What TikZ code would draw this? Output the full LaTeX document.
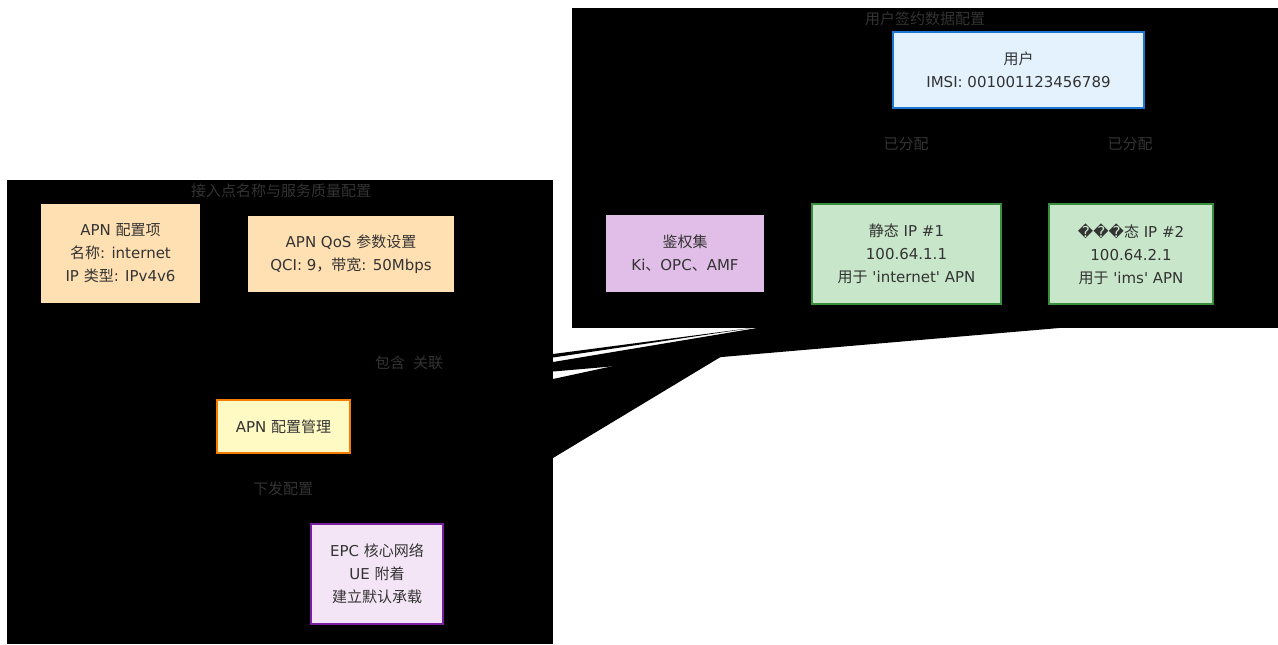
\documentclass[tikz,border=0pt]{standalone}
\usepackage{fontspec}
\setmainfont{DejaVu Sans}
\newfontfamily\dv{DejaVu Sans}
\newfontfamily\cjk{Noto Sans CJK SC}
\newcommand{\zh}[1]{{\cjk #1}}
\definecolor{txt}{HTML}{333333}
\definecolor{userfill}{HTML}{E3F2FD}
\definecolor{userdraw}{HTML}{1976D2}
\definecolor{keyfill}{HTML}{E1BEE7}
\definecolor{ipfill}{HTML}{C8E6C9}
\definecolor{ipdraw}{HTML}{388E3C}
\definecolor{apnfill}{HTML}{FFE0B2}
\definecolor{mgmtfill}{HTML}{FFF9C4}
\definecolor{mgmtdraw}{HTML}{F57C00}
\definecolor{epcfill}{HTML}{F3E5F5}
\definecolor{epcdraw}{HTML}{7B1FA2}
\tikzset{
  base/.style={font=\dv\fontsize{11.25pt}{17.25pt}\selectfont, text=txt, align=center, inner sep=0pt},
  box/.style={base, rectangle, line width=1.5pt},
  lbl/.style={base},
  cluster/.style={fill=black, draw=none},
  sliver/.style={fill=black, draw=none},
}
\begin{document}
\begin{tikzpicture}[x=0.75pt,y=-0.75pt]
\useasboundingbox (0,0) rectangle (1278,644);
% clusters
\fill[cluster] (572,8) rectangle (1278,328);
\fill[cluster] (7,180) rectangle (553,644);
% edge artefacts between clusters
\fill[sliver] (553,354) -- (755,327.5) -- (553,357.5) -- cycle;
\fill[sliver] (1065,327.5) -- (760,327.5) -- (553,362) -- (553,371.5) -- cycle;
\fill[sliver] (553,379) -- (757,335) -- (553,458) -- cycle;
% titles
\node[lbl] (ttop) at (925,19) {\zh{用户签约数据配置}};
\node[lbl] (tleft) at (281,191) {\zh{接入点名称与服务质量配置}};
% top cluster nodes
\node[box, fill=userfill, draw=userdraw, minimum width=188.25pt, minimum height=57pt] (user) at (1018.5,70)
  {\zh{用户}\\IMSI: 001001123456789};
\node[box, fill=keyfill, minimum width=118.5pt, minimum height=57.75pt] (keys) at (685,253.5)
  {\zh{鉴权集}\\Ki\zh{、}OPC\zh{、}AMF};
\node[box, fill=ipfill, draw=ipdraw, minimum width=141.75pt, minimum height=75pt] (ip1) at (906.5,254)
  {\zh{静态} IP \#1\\100.64.1.1\\\zh{用于} 'internet' APN};
\node[box, fill=ipfill, draw=ipdraw, minimum width=123pt, minimum height=75pt] (ip2) at (1131,254)
  {���\zh{态} IP \#2\\100.64.2.1\\\zh{用于} 'ims' APN};
\node[lbl] (l1) at (906,144) {\zh{已分配}};
\node[lbl] (l2) at (1130,144) {\zh{已分配}};
% left cluster nodes
\node[box, fill=apnfill, minimum width=119.25pt, minimum height=74.25pt] (apn) at (120.5,253.5)
  {APN \zh{配置项}\\\zh{名称}: internet\\IP \zh{类型}: IPv4v6};
\node[box, fill=apnfill, minimum width=154.5pt, minimum height=57pt] (qos) at (351,254)
  {APN QoS \zh{参数设置}\\QCI: 9\zh{，带宽}: 50Mbps};
\node[lbl] (l3) at (390,363) {\zh{包含}};
\node[lbl] (l4) at (428,363) {\zh{关联}};
\node[box, fill=mgmtfill, draw=mgmtdraw, minimum width=99.75pt, minimum height=39.75pt] (mgmt) at (283.5,426.5)
  {APN \zh{配置管理}};
\node[lbl] (l5) at (283,489) {\zh{下发配置}};
\node[box, fill=epcfill, draw=epcdraw, minimum width=99pt, minimum height=75pt] (epc) at (377,574)
  {EPC \zh{核心网络}\\UE \zh{附着}\\\zh{建立默认承载}};
\end{tikzpicture}
\end{document}
